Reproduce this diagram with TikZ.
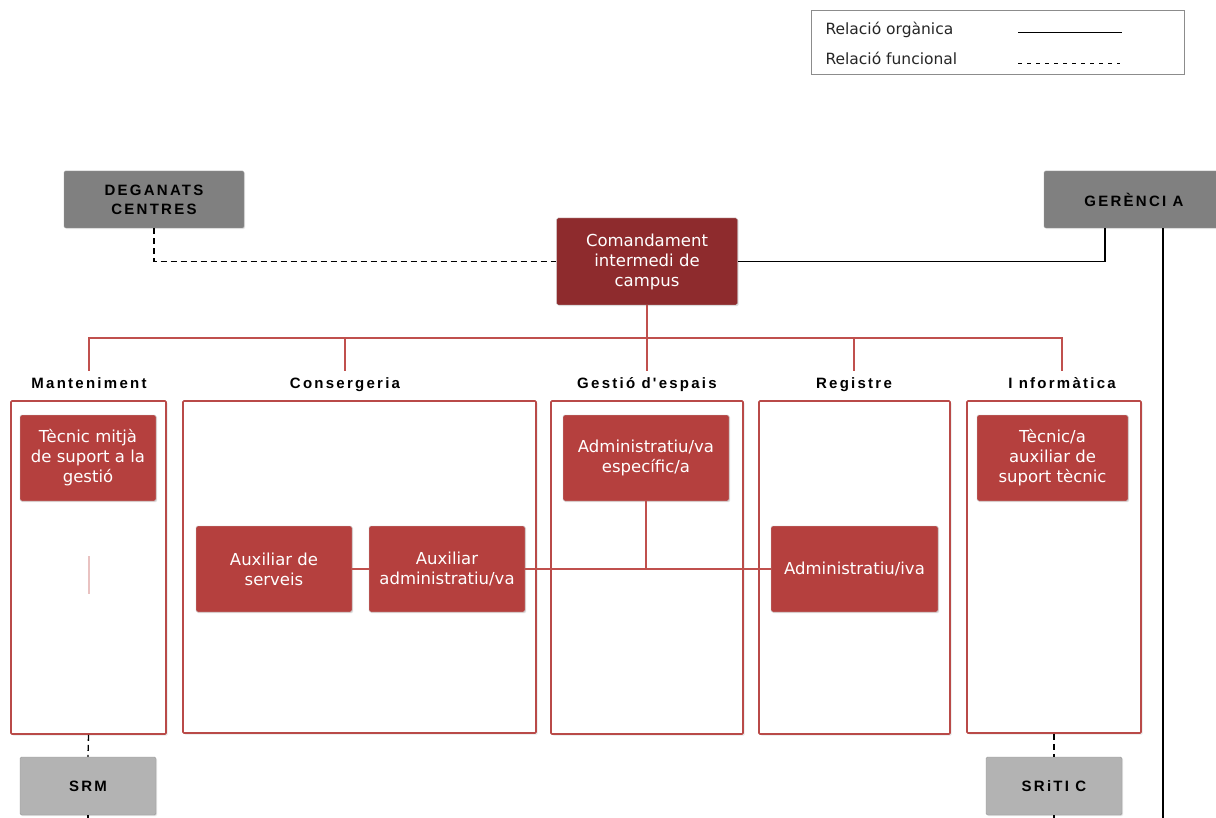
\documentclass[tikz,border=0pt]{standalone}
\usepackage{fontspec}
\setmainfont{DejaVu Sans}
\newfontfamily\headfont[LetterSpace=15]{Liberation Sans}
\usetikzlibrary{shadows}

\definecolor{cmdred}{RGB}{142,43,45}
\definecolor{postred}{RGB}{181,64,62}
\definecolor{linkred}{RGB}{192,80,77}
\definecolor{framered}{RGB}{185,74,72}
\definecolor{darkgrey}{RGB}{128,128,128}
\definecolor{lightgrey}{RGB}{179,179,179}

\begin{document}
\begin{tikzpicture}[x=1pt, y=-1pt,
    post/.style={draw=black!20, fill=postred, text=white, rounded corners=1.5pt,
      minimum height=86pt, align=center, inner sep=2pt,
      font=\fontsize{16.5}{20}\selectfont,
      drop shadow={shadow xshift=1.2pt, shadow yshift=-1.2pt, opacity=0.25}},
    greybox/.style={draw=black!40, fill=darkgrey, rounded corners=1.5pt, align=center,
      font=\headfont\bfseries\fontsize{15}{19}\selectfont,
      drop shadow={shadow xshift=1.2pt, shadow yshift=-1.2pt, opacity=0.2}},
    frame/.style={draw=framered, fill=white, line width=1.6pt, rounded corners=1pt,
      drop shadow={shadow xshift=1.5pt, shadow yshift=-1.5pt, opacity=0.2}},
    head/.style={anchor=north, inner sep=0pt, text height=17pt, text depth=3pt,
      font=\headfont\bfseries\fontsize{15}{17}\selectfont},
    organic/.style={line width=1.2pt},
    functional/.style={line width=1.3pt, dash pattern=on 6pt off 4pt},
    tree/.style={draw=linkred, line width=1.2pt}]
  \useasboundingbox (0,0) rectangle (1216,818);

  % legend
  \node[draw=black!45, line width=1pt, minimum width=373pt, minimum height=64pt] (legend) at (997.5,43) {};
  \node[anchor=west, font=\fontsize{15.5}{18}\selectfont, text=black!85] (lorg) at (822,30) {Relació orgànica};
  \node[anchor=west, font=\fontsize{15.5}{18}\selectfont, text=black!85] (lfun) at (822,58) {Relació funcional};
  \draw[line width=1pt] (1018,33) -- (1122,33);
  \draw[line width=1pt, dash pattern=on 4pt off 5pt] (1018,64) -- (1120,64);

  % top level
  \node[greybox, minimum width=180pt, minimum height=57pt] (deg) at (154,199.5) {DEGANATS\\CENTRES};
  \node[greybox, minimum width=180pt, minimum height=57pt] (ger) at (1134,199.5) {GERÈNCI A};
  \node[post, fill=cmdred, minimum width=181pt, minimum height=87pt] (cmd) at (647,261.5)
    {Comandament\\intermedi de\\campus};
  \coordinate (gbot) at (1163,818);

  \draw[functional] (deg.south) |- (cmd.west);
  \draw[organic] (cmd.east) -| ([xshift=-29pt]ger.south);
  \draw[organic] ([xshift=29pt]ger.south) -- (gbot);

  % units
  \node[frame, minimum width=155pt, minimum height=333pt] (fm) at (88.5,567.5) {};
  \node[frame, minimum width=353pt, minimum height=332pt] (fc) at (359.5,567) {};
  \node[frame, minimum width=192pt, minimum height=333pt] (fg) at (647,567.5) {};
  \node[frame, minimum width=191pt, minimum height=333pt] (fr) at (854.5,567.5) {};
  \node[frame, minimum width=174pt, minimum height=332pt] (fi) at (1054,567) {};

  \node[head] (lm) at (89,371) {Manteniment};
  \node[head] (lc) at (345,371) {Consergeria};
  \node[head] (lg) at (647,371) {Gestió d'espais};
  \node[head] (lr) at (854,371) {Registre};
  \node[head] (li) at (1062,371) {I nformàtica};

  \coordinate (bus) at (647,338);
  \draw[tree] (cmd.south) -- (cmd.south |- lg.north);
  \draw[tree] (lm.north) |- (bus) -| (li.north);
  \foreach \u in {lc,lr}
    \draw[tree] (\u.north) -- (\u.north |- bus);

  % posts
  \node[post, minimum width=136pt] (tm) at (88,458) {Tècnic mitjà\\de suport a la\\gestió};
  \node[post, minimum width=156pt] (as) at (274,569) {Auxiliar de\\serveis};
  \node[post, minimum width=156pt] (aa) at (447,569) {Auxiliar\\administratiu/va};
  \node[post, minimum width=166pt] (ae) at (646,458) {Administratiu/va\\específic/a};
  \node[post, minimum width=167pt] (ai) at (854.5,569) {Administratiu/iva};
  \node[post, minimum width=151pt] (ta) at (1052.5,458) {Tècnic/a\\auxiliar de\\suport tècnic};

  \draw[tree] (as.east) -- (aa.west);
  \draw[tree] (aa.east) -- (ai.west);
  \draw[tree] (ae.south) -- (ae.south |- ai.west);
  \coordinate (m1) at (89,556);
  \coordinate (m2) at (89,594);
  \draw[draw=linkred!35, line width=1.5pt] (m1) -- (m2);

  % services below
  \node[greybox, fill=lightgrey, minimum width=136pt, minimum height=58pt] (srm) at (88,786) {SRM};
  \node[greybox, fill=lightgrey, minimum width=136pt, minimum height=58pt] (srt) at (1054,786) {SRiTI C};
  \draw[functional] (fm.south) -- (srm.north);
  \draw[functional] (fi.south) -- (srt.north);
  \draw[functional] (srm.south) -- ++(0,5);
  \draw[functional] (srt.south) -- ++(0,5);
\end{tikzpicture}
\end{document}
